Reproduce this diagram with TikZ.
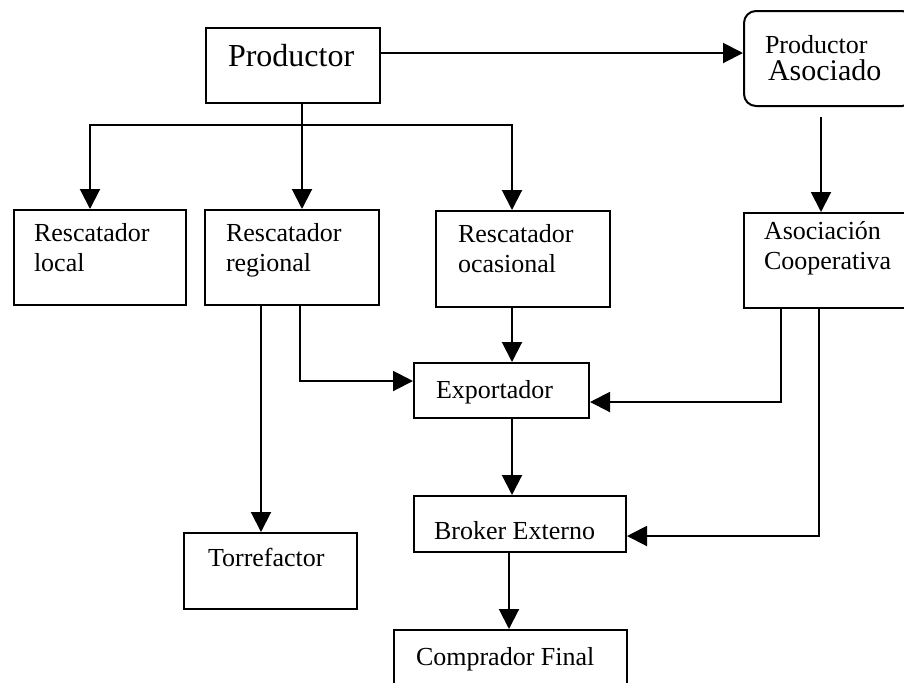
\documentclass[tikz,border=0pt]{standalone}
\usepackage{fontspec}
\setmainfont{Liberation Serif}
\usetikzlibrary{arrows.meta}
\begin{document}
\begin{tikzpicture}[x=0.5pt,y=-0.5pt,line width=1pt,
    box/.style={draw,rectangle,anchor=north west,inner sep=0pt},
    txt/.style={inner sep=0pt,align=left,font=\fontsize{13}{15}\selectfont},
    arr/.style={-{Triangle[length=10pt,width=10pt]}}]
\clip (0,0) rectangle (904,682);
\node [box,minimum width=87pt,minimum height=37.5pt] (prod) at (205,27) {};
\node [box,rounded corners=6pt,minimum width=85pt,minimum height=47.5pt] (asoc) at (743,10) {};
\node [box,minimum width=86pt,minimum height=47.5pt] (rloc) at (13,209) {};
\node [box,minimum width=87pt,minimum height=47.5pt] (rreg) at (204,209) {};
\node [box,minimum width=87pt,minimum height=48pt] (rocas) at (435,210) {};
\node [box,minimum width=85pt,minimum height=47.5pt] (coop) at (743,212) {};
\node [box,minimum width=87.5pt,minimum height=27.5pt] (expo) at (413,362) {};
\node [box,minimum width=106pt,minimum height=28pt] (brok) at (413,495) {};
\node [box,minimum width=86.5pt,minimum height=38pt] (torr) at (183,532) {};
\node [box,minimum width=116.5pt,minimum height=35pt] (comp) at (393,629) {};
\node [txt,anchor=base west,font=\fontsize{16}{19}\selectfont] (prod-t) at (227,66) {Productor};
\node [txt,anchor=base west] (asoc-t1) at (764,53) {Productor};
\node [txt,anchor=base west,font=\fontsize{15}{18}\selectfont] (asoc-t2) at (767,80) {Asociado};
\node [txt,anchor=north west] (rloc-t) at (33,222) {Rescatador\\local};
\node [txt,anchor=north west] (rreg-t) at (225,222) {Rescatador\\regional};
\node [txt,anchor=north west] (rocas-t) at (457,223) {Rescatador\\ocasional};
\node [txt,anchor=north west] (coop-t) at (763,220) {Asociación\\Cooperativa};
\node [txt,anchor=base west] (expo-t) at (435,398) {Exportador};
\node [txt,anchor=base west] (brok-t) at (433,539) {Broker Externo};
\node [txt,anchor=base west] (torr-t) at (207,566) {Torrefactor};
\node [txt,anchor=base west] (comp-t) at (415,665) {Comprador Final};
\coordinate (ps) at ([xshift=4.5pt]prod.south);
\coordinate (bus) at (ps |- 0,125);
\draw (ps) -- (bus);
\draw [arr] (bus) -| ([xshift=-5pt]rloc.north);
\draw [arr] (bus) -- (bus |- rreg.north);
\draw [arr] (bus) -| ([xshift=-5.5pt]rocas.north);
\coordinate (pa) at ([yshift=6.25pt]prod.east);
\draw [arr] (pa) -- (pa -| asoc.west);
\coordinate (ac) at ([xshift=-4pt,yshift=-5pt]asoc.south);
\draw [arr] (ac) -- (ac |- coop.north);
\coordinate (rt) at ([xshift=-4.75pt]torr.north);
\draw [arr] (rt |- rreg.south) -- (rt);
\coordinate (re) at ([yshift=4.75pt]expo.west);
\draw [arr] ([xshift=4pt]rreg.south) |- (re);
\coordinate (oe) at ([xshift=-5.5pt]rocas.south);
\draw [arr] (oe) -- (oe |- expo.north);
\coordinate (eb) at ([xshift=5.25pt]expo.south);
\draw [arr] (eb) -- (eb |- brok.north);
\coordinate (bc) at ([xshift=-5.5pt]brok.south);
\draw [arr] (bc) -- (bc |- comp.north);
\coordinate (ce) at ([yshift=-5.75pt]expo.east);
\draw [arr] ([xshift=-24pt]coop.south) |- (ce);
\coordinate (cb) at ([yshift=-6pt]brok.east);
\draw [arr] ([xshift=-5pt]coop.south) |- (cb);
\end{tikzpicture}
\end{document}
